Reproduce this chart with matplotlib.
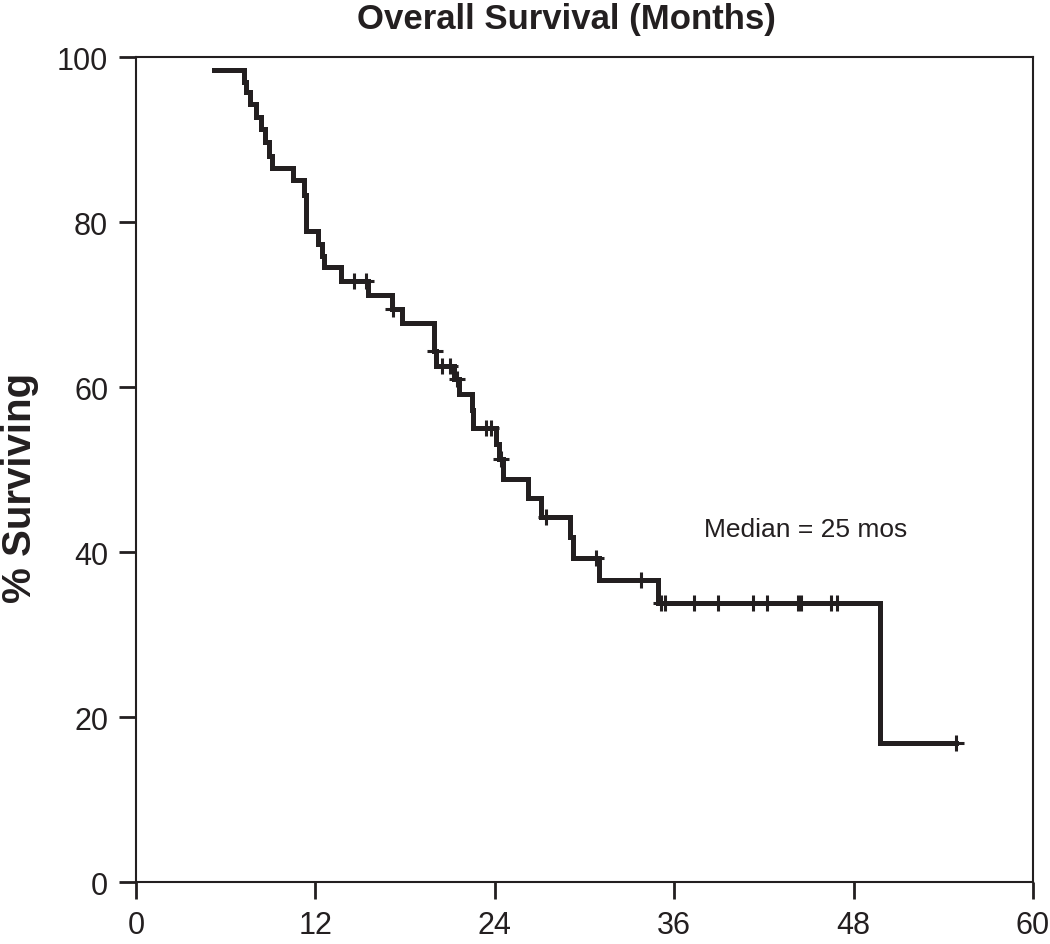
import numpy as np
import matplotlib
matplotlib.use("Agg")
import matplotlib.pyplot as plt

plt.rcParams['font.family'] = ['Liberation Sans', 'DejaVu Sans']

########## Kaplan-Meier curve
start_time   = 5.2      # months, where the drawn curve begins
start_level  = 98.4     # % surviving at that point
end_time     = 54.85    # last follow-up

# event times (months) and % surviving after each drop
event_times  = [7.2, 7.35, 7.6, 8.0, 8.35, 8.6, 8.9, 9.1, 10.5, 11.25,
                11.4, 12.15, 12.45, 12.55, 13.7, 15.5, 17.1, 17.8, 19.95, 20.05,
                21.3, 21.6, 22.45, 22.55, 24.05, 24.3, 24.55, 26.2, 27.1, 29.0,
                29.2, 31.0, 34.95, 49.75]
surv_levels  = [97.0, 95.8, 94.3, 92.7, 91.3, 89.7, 88.0, 86.6, 85.1, 83.3,
                78.9, 77.3, 75.9, 74.5, 72.9, 71.2, 69.5, 67.8, 64.4, 62.6,
                61.0, 59.2, 57.2, 55.0, 53.1, 51.3, 48.8, 46.5, 44.2, 41.8,
                39.3, 36.6, 33.8, 16.9]

# censored patients (months)
censor_times = [14.6, 15.4, 17.2, 20.0, 20.5, 21.0, 21.5, 23.4, 23.75, 24.4,
                27.4, 30.75, 33.8, 35.1, 35.4, 37.3, 38.9, 41.3, 42.2, 44.3,
                44.5, 46.5, 46.9, 54.85]

median_text  = "Median = 25 mos"
x_ticks      = [0, 12, 24, 36, 48, 60]
y_ticks      = [0, 20, 40, 60, 80, 100]

########## Build the step curve
t = np.array([start_time] + event_times + [end_time])
s = np.array([start_level] + surv_levels + [surv_levels[-1]])

# level of the curve at each censor time
idx = np.searchsorted(t, censor_times, side='right') - 1
censor_levels = s[idx]

########## Plot
ink = '#231f20'
fig = plt.figure(figsize=(10.5, 9.45), dpi=100)
fig.set_facecolor('w')
ax = fig.add_axes([0.1295, 0.0656, 0.8543, 0.873])

ax.step(t, s, where='post', color=ink, lw=3.6, solid_joinstyle='miter')
ax.plot(censor_times, censor_levels, ls='none', marker='+', ms=12, mew=2.2, color=ink)

ax.text(38.0, 42.8, median_text, fontsize=19, color=ink, ha='left', va='center')

ax.set_xlim(0, 60)
ax.set_ylim(0, 100)
ax.set_xticks(x_ticks)
ax.set_yticks(y_ticks)
ax.tick_params(direction='out', length=12, width=2, colors=ink, labelsize=22, pad=8)
for sp in ax.spines.values():
    sp.set_linewidth(1.5)
    sp.set_color(ink)

fig.text(566/1050, 1-20/945, "Overall Survival (Months)", fontsize=25, fontweight='bold',
         ha='center', va='center', color=ink)
fig.text(20/1050, 1-488/945, "% Surviving", fontsize=29, fontweight='bold', rotation=90,
         ha='center', va='center', color=ink)

plt.savefig('out.png', format='png', dpi=100)
